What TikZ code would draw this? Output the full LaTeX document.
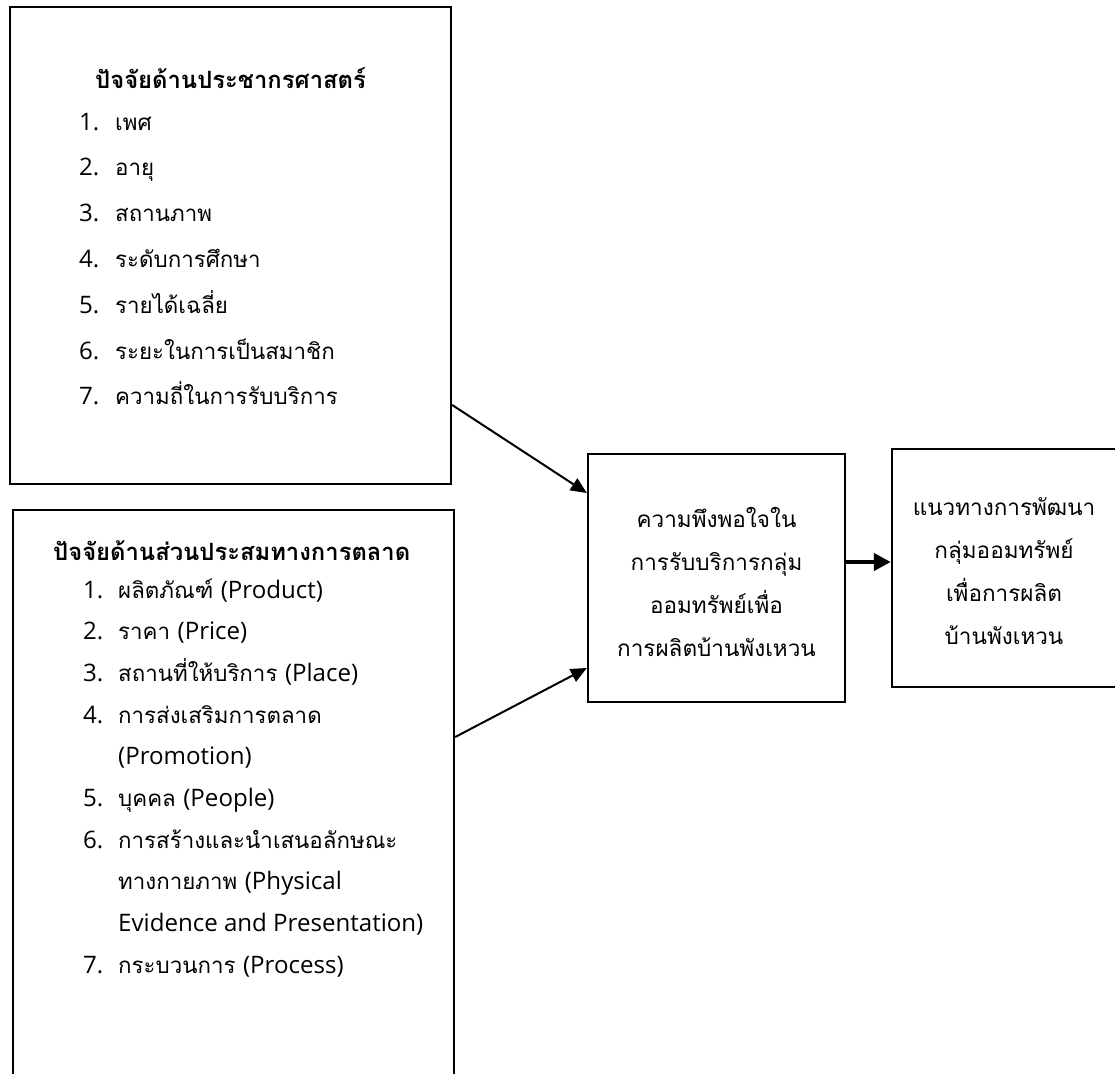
\documentclass[tikz,border=0pt]{standalone}
\usepackage{fontspec}
\setmainfont[Script=Thai]{Loma}
\newfontfamily\latfont[Scale=1.08]{Open Sans}
\newcommand\eng[1]{{\latfont #1}}
\usetikzlibrary{positioning,arrows.meta,calc}

\begin{document}
\begin{tikzpicture}[x=1pt,y=-1pt,
  box/.style={draw,line width=2.4pt,inner sep=0pt},
  arr/.style={-{Triangle[length=16pt,width=14pt]},line width=2pt},
  fat/.style={-{Triangle[length=17pt,width=17pt]},line width=4.5pt},
  head/.style={anchor=base west,inner sep=0pt,font=\bfseries\fontsize{23.8}{28}\selectfont},
  itm/.style={anchor=base west,inner sep=0pt,font=\fontsize{22.3}{26}\selectfont},
  mid/.style={anchor=base,inner sep=0pt,font=\fontsize{22.5}{26}\selectfont}]
  \useasboundingbox (0,0) rectangle (1115,1073);

  % Boxes.  Coordinates are pixels, y pointing down.
  \node[box,minimum width=441pt,minimum height=477pt] (demo) at (230.5,245.5) {};
  \node[box,minimum width=441pt,minimum height=575pt] (mix) at (233.5,797.5) {};
  \node[box,minimum width=257pt,minimum height=248pt] (sat) at (716.5,578) {};
  \node[box,minimum width=226pt,minimum height=238pt] (dev) at (1005,568) {};

  % Demographic factors.
  \node[head] (demot) at (95,88) {ปัจจัยด้านประชากรศาสตร์};
  \foreach \n/\txt [count=\i] in {1./เพศ,2./อายุ,3./สถานภาพ,4./ระดับการศึกษา,
      5./รายได้เฉลี่ย,6./ระยะในการเป็นสมาชิก,7./ความถี่ในการรับบริการ}{
    \node[itm] (demo\i) at (79,84.2+\i*45.8) {\makebox[36pt][l]{\eng{\n}}\txt};
  }

  % Marketing mix factors.
  \node[head] (mixt) at (53,560) {ปัจจัยด้านส่วนประสมทางการตลาด};
  \foreach \n/\txt [count=\i] in {1./ผลิตภัณฑ์ \eng{(Product)},2./ราคา \eng{(Price)},
      3./สถานที่ให้บริการ \eng{(Place)},4./การส่งเสริมการตลาด,/\eng{(Promotion)},
      5./บุคคล \eng{(People)},6./การสร้างและนำเสนอลักษณะ,/ทางกายภาพ \eng{(Physical},
      /\eng{Evidence and Presentation)},7./กระบวนการ \eng{(Process)}}{
    \node[itm] (mix\i) at (83,556.3+\i*41.7) {\makebox[35pt][l]{\eng{\n}}\txt};
  }

  % Satisfaction and development guideline.
  \foreach \txt [count=\i] in {ความพึงพอใจใน,การรับบริการกลุ่ม,ออมทรัพย์เพื่อ,
      การผลิตบ้านพังเหวน}{
    \node[mid] (sat\i) at (716.5,484+\i*43) {\txt};
  }
  \foreach \txt [count=\i] in {แนวทางการพัฒนา,กลุ่มออมทรัพย์,เพื่อการผลิต,
      บ้านพังเหวน}{
    \node[mid] (dev\i) at (1004,472+\i*43) {\txt};
  }

  \draw[arr] ([yshift=-159.5pt]demo.east) -- ([yshift=85pt]sat.west);
  \draw[arr] ([yshift=60.5pt]mix.east) -- ([yshift=-90pt]sat.west);
  \draw[fat] ([yshift=16pt]sat.east) -- ([yshift=16pt]sat.east -| dev.west);
\end{tikzpicture}
\end{document}
